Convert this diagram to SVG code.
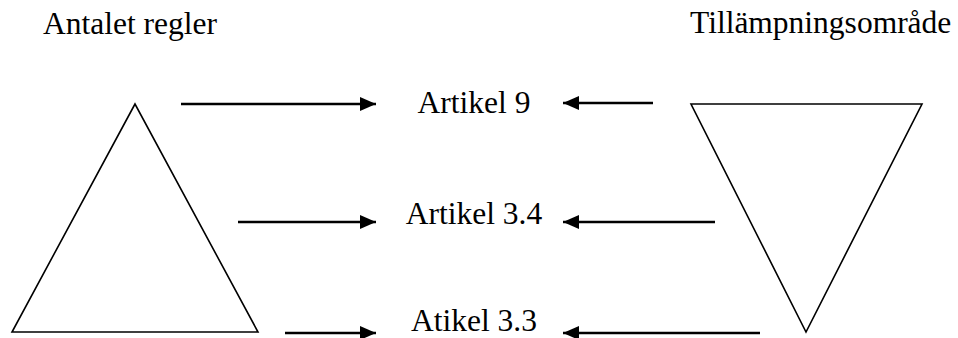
<svg xmlns="http://www.w3.org/2000/svg" width="958" height="338" viewBox="0 0 958 338">
<style>
.t{font-family:'Liberation Serif','Times New Roman','DejaVu Serif',serif;font-size:31.5px;fill:#000}
.tri{fill:none;stroke:#000;stroke-width:1.6}
.arr{stroke:#000;stroke-width:2.5;fill:none;marker-end:url(#ah)}
</style>
<defs>
<marker id="ah" markerUnits="userSpaceOnUse" markerWidth="17" markerHeight="15" refX="16" refY="7" orient="auto">
<path d="M0,0 L16,7 L0,14 Z" fill="#000"/>
</marker>
</defs>
<rect width="958" height="338" fill="#fff"/>
<g id="label-left"><text class="t" x="43" y="34">Antalet regler</text></g>
<g id="label-right"><text class="t" x="690" y="33">Tillämpningsområde</text></g>
<g id="triangle-up"><polygon class="tri" points="135,104 12,332 258,332"/></g>
<g id="triangle-down"><polygon class="tri" points="691,104 922,104 806,332"/></g>
<g id="artikel9"><text class="t" x="474" y="113" text-anchor="middle">Artikel 9</text></g>
<g id="artikel34"><text class="t" x="474" y="224" text-anchor="middle">Artikel 3.4</text></g>
<g id="atikel33"><text class="t" x="474" y="331" text-anchor="middle">Atikel 3.3</text></g>
<g id="connectors">
<line class="arr" x1="181" y1="104" x2="376" y2="104"/>
<line class="arr" x1="653" y1="103" x2="563" y2="103"/>
<line class="arr" x1="238" y1="222" x2="376" y2="222"/>
<line class="arr" x1="715" y1="222" x2="563" y2="222"/>
<line class="arr" x1="285" y1="333" x2="376" y2="333"/>
<line class="arr" x1="760" y1="333" x2="563" y2="333"/>
</g>
</svg>
